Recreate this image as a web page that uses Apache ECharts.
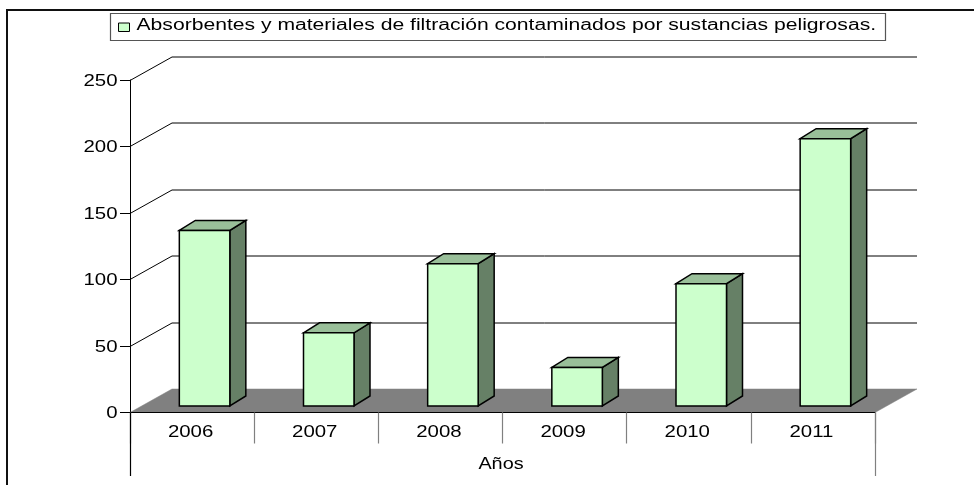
<!DOCTYPE html>
<html>
<head>
<meta charset="utf-8">
<style>
html, body { margin: 0; padding: 0; background: #fff; }
#chart { width: 974px; height: 485px; }
</style>
<script src="https://cdn.jsdelivr.net/npm/echarts@6/dist/echarts.min.js"></script>
</head>
<body>
<div id="chart"></div>
<script>
var years = ["2006", "2007", "2008", "2009", "2010", "2011"];
var values = [132, 55, 107, 29, 92, 201];
var ticks = [0, 50, 100, 150, 200, 250];
var seriesName = "Absorbentes y materiales de filtración contaminados por sustancias peligrosas.";
var axisName = "Años";

// fake 3d offsets, in pixels
var wallDx = 42, wallDy = -23.5;
var barDx = 12.5, barDy = -6.5;
var sideDx = 16, sideDy = -10;
var barWidth = 50.5;
var font = "Liberation Sans";
var fontSize = 16;
// the original text is stretched sideways, axisLabel cannot do that
var stretch = 1.275;

var myChart = echarts.init(document.getElementById("chart"), null, { renderer: "canvas" });

function poly(points, fill, stroke, lineWidth) {
  return {
    type: "polygon",
    shape: { points: points },
    style: { fill: fill, stroke: stroke, lineWidth: lineWidth || 0 }
  };
}

function polyline(points, stroke, lineWidth) {
  return {
    type: "polyline",
    shape: { points: points },
    style: { fill: null, stroke: stroke, lineWidth: lineWidth }
  };
}

function wideText(text, x, y, align, scaleX) {
  return {
    type: "text",
    x: x,
    y: y,
    scaleX: scaleX || stretch,
    style: {
      text: text,
      x: 0,
      y: 0,
      fill: "#000",
      font: fontSize + 'px "' + font + '"',
      textAlign: align,
      textVerticalAlign: "middle"
    }
  };
}

// floor, back wall lines and the value labels
function renderWall(params, api) {
  var v = api.value(0);
  var start = api.coord([0, v]);
  var w = api.size([1, 0])[0];
  var x0 = start[0] - w / 2;
  var x1 = x0 + w * years.length;
  var y = Math.floor(start[1]) + 0.5;
  var label = wideText(String(v), x0 - 12.5, start[1] + 1.5, "right");
  if (v === 0) {
    return {
      type: "group",
      children: [poly([[x0, y], [x0 + wallDx, y + wallDy], [x1 + wallDx, y + wallDy], [x1, y]], "#808080", "#808080", 0.5), label]
    };
  }
  return {
    type: "group",
    children: [polyline([[x0, y], [x0 + wallDx, y + wallDy], [x1 + wallDx, y + wallDy]], "#000", 1), label]
  };
}

function renderBar(params, api) {
  var c = api.coord([api.value(0), api.value(1)]);
  var b = api.coord([api.value(0), 0]);
  var l = c[0] - barWidth / 2 + barDx;
  var r = l + barWidth;
  var t = c[1] + barDy;
  var bot = b[1] + barDy;
  return {
    type: "group",
    children: [
      poly([[r, t], [r + sideDx, t + sideDy], [r + sideDx, bot + sideDy], [r, bot]], "#668066", "#000", 1.5),
      poly([[l, t], [l + sideDx, t + sideDy], [r + sideDx, t + sideDy], [r, t]], "#99BF99", "#000", 1.5),
      poly([[l, t], [r, t], [r, bot], [l, bot]], "#CCFFCC", "#000", 1.5)
    ]
  };
}

function renderYear(params, api) {
  var p = api.coord([api.value(0), 0]);
  return wideText(years[api.value(0)], p[0] - 1.5, p[1] + 20, "center");
}

// the outer ticks run further down to hold the axis name
function renderEdge(params, api) {
  var i = api.value(0);
  var p = api.coord([0, 0]);
  var w = api.size([1, 0])[0];
  var x = Math.round(p[0] - w / 2 + w * i) + 0.5;
  var y = p[1] + 63.5;
  if (i === 0) {
    return {
      type: "group",
      children: [
        polyline([[x, p[1]], [x, y]], "#000", 1.2),
        wideText(axisName, p[0] - w / 2 + w * years.length / 2 - 1.5, p[1] + 52, "center", 1.24)
      ]
    };
  }
  return polyline([[x, p[1]], [x, y]], "#808080", 1.2);
}

myChart.setOption({
  animation: false,
  backgroundColor: "#fff",
  grid: { left: 130, top: 80, width: 745, height: 332.5 },
  xAxis: {
    type: "category",
    data: years,
    boundaryGap: true,
    z: 2,
    axisLine: { show: true, lineStyle: { color: "#000", width: 1 } },
    axisTick: { show: true, length: 31, lineStyle: { color: "#808080", width: 1.2 } },
    axisLabel: { show: false },
    splitLine: { show: false }
  },
  yAxis: {
    type: "value",
    min: 0,
    max: 250,
    interval: 50,
    axisLine: { show: true, lineStyle: { color: "#000", width: 1 } },
    axisTick: { show: true, length: 10, lineStyle: { color: "#000", width: 1 } },
    axisLabel: { show: false },
    splitLine: { show: false }
  },
  graphic: [
    { type: "polyline", silent: true, shape: { points: [[7, 485], [7, 10], [974, 10]] }, style: { fill: null, stroke: "#111", lineWidth: 2 } },
    // legend box, built by hand because of the stretched text
    { type: "rect", silent: true, shape: { x: 110.5, y: 13.5, width: 775, height: 27 }, style: { fill: "#fff", stroke: "#555", lineWidth: 1.2 } },
    { type: "rect", silent: true, shape: { x: 118.5, y: 23, width: 11, height: 8.5 }, style: { fill: "#CCFFCC", stroke: "#000", lineWidth: 1 } },
    {
      type: "text",
      silent: true,
      x: 136.5,
      y: 26,
      scaleX: 1.32,
      style: { text: seriesName, x: 0, y: 0, fill: "#000", font: fontSize + 'px "' + font + '"', textAlign: "left", textVerticalAlign: "middle" }
    }
  ],
  series: [
    {
      type: "custom",
      name: "wall",
      z: 1,
      clip: false,
      silent: true,
      renderItem: renderWall,
      data: ticks.map(function (t) { return [t]; })
    },
    {
      type: "custom",
      name: "edge",
      z: 4,
      clip: false,
      silent: true,
      renderItem: renderEdge,
      data: [[0], [years.length]]
    },
    {
      type: "custom",
      name: "years",
      z: 1,
      clip: false,
      silent: true,
      renderItem: renderYear,
      data: years.map(function (y, i) { return [i]; })
    },
    {
      type: "custom",
      name: seriesName,
      z: 3,
      clip: false,
      renderItem: renderBar,
      encode: { x: 0, y: 1 },
      data: values.map(function (v, i) { return [i, v]; })
    }
  ]
});
</script>
</body>
</html>
